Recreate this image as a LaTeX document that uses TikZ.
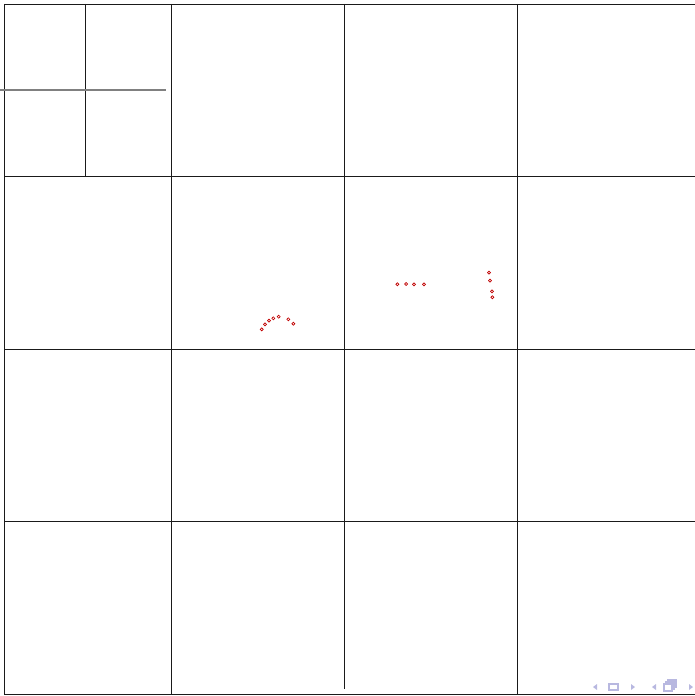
\documentclass[tikz,border=0pt]{standalone}
\usepackage{tikz}
\usepackage{xcolor}
\definecolor{gridblack}{HTML}{1A1A1A}
\definecolor{splitgray}{HTML}{808080}
\definecolor{dotred}{HTML}{C00000}
\definecolor{navblue}{HTML}{B8B8E0}

\begin{document}
\begin{tikzpicture}[x=0.02cm,y=-0.02cm]
  \tikzset{
    cell/.style={gridblack,line width=0.5pt},
    split/.style={splitgray,line width=0.6pt},
    dot/.style={draw=dotred,line width=0.4pt,fill=white},
    navfill/.style={fill=navblue,draw=none},
    navline/.style={draw=navblue,line width=0.6pt},
  }
  \useasboundingbox (0,0) rectangle (695,696);

  % Grid: 4 x 4 cells, open on the right.
  \foreach \yy in {4,176,349,521,694} {
    \draw[cell] (4,\yy) -- (695,\yy);
  }
  \foreach \xx/\yend in {4/694,171/694,344/689,517/694} {
    \draw[cell] (\xx,4) -- (\xx,\yend);
  }

  % Top-left cell split in four.
  \draw[cell] (85,4) -- (85,176);
  \draw[split] (0,90) -- (166,90);

  % Red marks, row 2.
  \foreach \xx/\yy in {261.7/329.3,265/324.3,269/320.7,273.3/318.3,
                       278.7/316.7,288.3/319.3,293.3/323.7} {
    \draw[dot] (\xx,\yy) circle (1.5);
  }
  \foreach \xx/\yy in {397.3/284.3,406/284,414/284.3,424/284.3,
                       489/272.7,490/280.7,492/291.3,492.3/297.3} {
    \draw[dot] (\xx,\yy) circle (1.5);
  }

  % Navigation symbols.
  \fill[navfill] (597,684) -- (593,687) -- (597,690) -- cycle;
  \draw[navline] (609,684) rectangle (618,690);
  \fill[navfill] (631,684) -- (635,687) -- (631,690) -- cycle;
  \fill[navfill] (656,684) -- (652,687) -- (656,690) -- cycle;
  \draw[navline] (664,684) rectangle (672,691);
  \draw[navline] (666,684) -- (666,682) -- (674,682) -- (674,689) -- (672,689);
  \draw[navline] (668,682) -- (668,680) -- (676,680) -- (676,687) -- (674,687);
  \fill[navfill] (689,684) -- (693,687) -- (689,690) -- cycle;
\end{tikzpicture}
\end{document}
